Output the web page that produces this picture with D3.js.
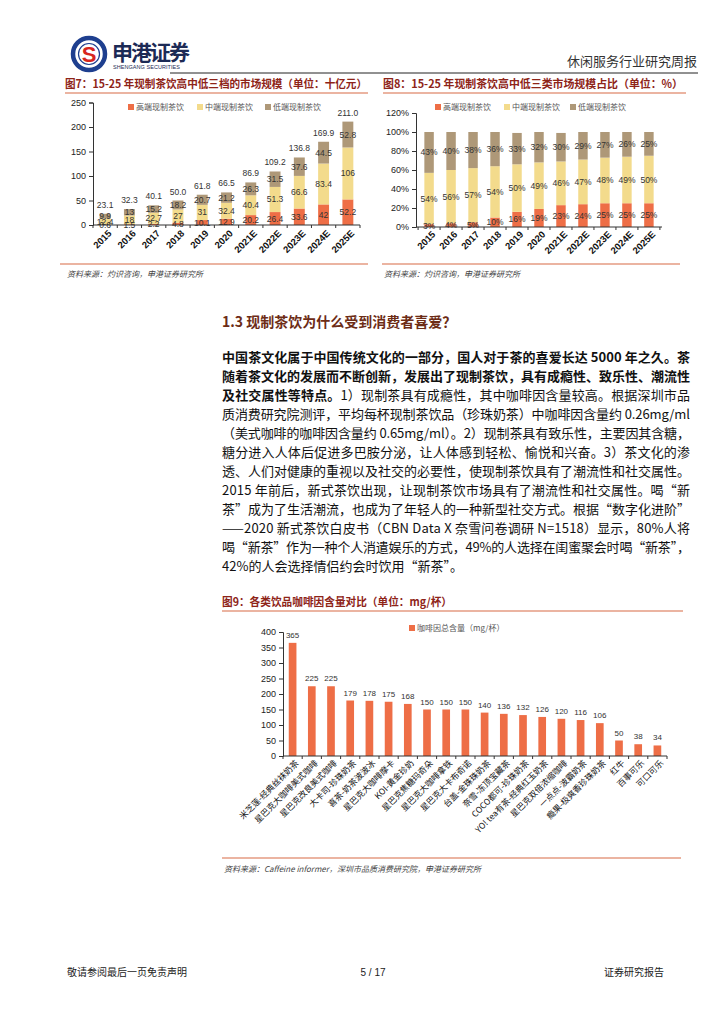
<!DOCTYPE html>
<html>
<head>
<meta charset="utf-8">
<script src="https://cdn.jsdelivr.net/npm/d3@7"></script>
<style>
body { margin: 0; background: #fff; }
text { font-family: "Noto Sans CJK SC", "Liberation Sans", sans-serif; }
.num { font-family: "Liberation Sans", Arial, sans-serif; }
</style>
</head>
<body>
<script>
// chart data
var years = ["2015", "2016", "2017", "2018", "2019", "2020", "2021E", "2022E", "2023E", "2024E", "2025E"];
var highVals = [0.6, 1.5, 2.2, 4.8, 10.1, 12.9, 20.2, 26.4, 33.6, 42, 52.2];
var midVals = [12.4, 18, 22.7, 27, 31, 32.4, 40.4, 51.3, 66.6, 83.4, 106];
var lowVals = [9.9, 13, 15.2, 18.2, 20.7, 21.2, 26.3, 31.5, 37.6, 44.5, 52.8];
var totalVals = [23.1, 32.3, 40.1, 50.0, 61.8, 66.5, 86.9, 109.2, 136.8, 169.9, 211.0];

var highPct = [3, 4, 5, 10, 16, 19, 23, 24, 25, 25, 25];
var midPct = [54, 56, 57, 54, 50, 49, 46, 47, 48, 49, 50];
var lowPct = [43, 40, 38, 36, 33, 32, 30, 29, 27, 26, 25];

var tierNames = ["高端现制茶饮", "中端现制茶饮", "低端现制茶饮"];

var drinkNames = ["米芝莲-经典丝袜奶茶", "星巴克大咖啡美式咖啡", "星巴克改良美式咖啡", "大卡司-珍珠奶茶",
  "喜茶-奶茶波波冰", "星巴克大咖啡摩卡", "KOI-黄金珍奶", "星巴克焦糖玛奇朵", "星巴克大咖啡拿铁",
  "星巴克大卡布奇诺", "台盖-金珠珠奶茶", "奈雪-冻顶宝藏茶", "COCO都可-珍珠奶茶", "YO! tea有茶-经典红玉奶茶",
  "星巴克双倍浓缩咖啡", "一点点-波霸奶茶", "瘾果-极爽香珍珠奶茶", "红牛", "百事可乐", "可口可乐"];
var caffeineVals = [365, 225, 225, 179, 178, 175, 168, 150, 150, 150, 140, 136, 132, 126, 120, 116, 106, 50, 38, 34];

var yTicks7 = [0, 50, 100, 150, 200, 250];
var yTicks8 = [0, 20, 40, 60, 80, 100, 120];
var yTicks9 = [0, 50, 100, 150, 200, 250, 300, 350, 400];

var paraLines = [
  [["b", "中国茶文化属于中国传统文化的一部分，国人对于茶的喜爱长达 5000 年之久。茶"]],
  [["b", "随着茶文化的发展而不断创新，发展出了现制茶饮，具有成瘾性、致乐性、潮流性"]],
  [["b", "及社交属性等特点。"], ["n", "1）现制茶具有成瘾性，其中咖啡因含量较高。根据深圳市品"]],
  [["n", "质消费研究院测评，平均每杯现制茶饮品（珍珠奶茶）中咖啡因含量约 0.26mg/ml"]],
  [["n", "（美式咖啡的咖啡因含量约 0.65mg/ml）。2）现制茶具有致乐性，主要因其含糖，"]],
  [["n", "糖分进入人体后促进多巴胺分泌，让人体感到轻松、愉悦和兴奋。3）茶文化的渗"]],
  [["n", "透、人们对健康的重视以及社交的必要性，使现制茶饮具有了潮流性和社交属性。"]],
  [["n", "2015 年前后，新式茶饮出现，让现制茶饮市场具有了潮流性和社交属性。喝“新"]],
  [["n", "茶”成为了生活潮流，也成为了年轻人的一种新型社交方式。根据“数字化进阶”"]],
  [["n", "——2020 新式茶饮白皮书（CBN Data X 奈雪问卷调研 N=1518）显示，80%人将"]],
  [["n", "喝“新茶”作为一种个人消遣娱乐的方式，49%的人选择在闺蜜聚会时喝“新茶”，"]],
  [["n", "42%的人会选择情侣约会时饮用“新茶”。"]]
];

var orange = "#EE6E46", yellow = "#F3DB8C", tan = "#AE9878";
var tierColor = {high: orange, mid: yellow, low: tan};
var titleRed = "#8E2418", ruleColor = "#D86A45";

var svg = d3.select("body").append("svg")
  .attr("width", 724)
  .attr("height", 1024);

// header
var logo = svg.append("g").attr("transform", "translate(89,54)");
logo.append("circle").attr("r", 16).attr("fill", "#fff").attr("stroke", "#1E3F8F").attr("stroke-width", 4.5);
logo.append("circle").attr("r", 10.5).attr("fill", "#fff").attr("stroke", "#1E3F8F").attr("stroke-width", 1.2);
logo.append("text").attr("y", 8).attr("text-anchor", "middle")
  .attr("font-size", 22).attr("font-weight", "bold").attr("fill", "#D7261E")
  .attr("class", "num").text("S");
svg.append("text").attr("x", 112).attr("y", 60).attr("font-size", 21).attr("font-weight", "bold")
  .attr("fill", "#1C2A55").attr("textLength", 78).text("申港证券");
svg.append("text").attr("x", 113).attr("y", 69).attr("font-size", 5.5).attr("class", "num")
  .attr("fill", "#1C2A55").attr("textLength", 67).text("SHENGANG SECURITIES");
svg.append("line").attr("x1", 170).attr("x2", 698).attr("y1", 73).attr("y2", 73)
  .attr("stroke", "#222").attr("stroke-width", 1);
svg.append("text").attr("x", 697).attr("y", 66).attr("text-anchor", "end")
  .attr("font-size", 13).attr("fill", "#333").text("休闲服务行业研究周报");

function figTitle(x, y, txt, w) {
  svg.append("text").attr("x", x).attr("y", y).attr("font-size", 11).attr("font-weight", "bold")
    .attr("fill", titleRed).attr("textLength", w).attr("lengthAdjust", "spacingAndGlyphs").text(txt);
}
function rule(x1, x2, y) {
  svg.append("line").attr("x1", x1).attr("x2", x2).attr("y1", y).attr("y2", y)
    .attr("stroke", ruleColor).attr("stroke-width", 1.2);
}
function source(x, y, txt) {
  svg.append("text").attr("x", x).attr("y", y).attr("font-size", 8).attr("font-style", "italic")
    .attr("fill", "#444").text(txt);
}
function styleAxis(g) {
  g.selectAll("text").attr("class", "num").attr("font-size", 9).attr("fill", "#222");
  g.selectAll("path,line").attr("stroke", "#333");
}
function legendItem(x, y, color, label) {
  svg.append("rect").attr("x", x).attr("y", y - 3).attr("width", 6).attr("height", 6).attr("fill", color);
  svg.append("text").attr("x", x + 8).attr("y", y + 3).attr("font-size", 8).attr("fill", "#555").text(label);
}
function bandAxis(x, y0) {
  var r = x.range();
  var g = svg.append("g");
  g.append("line").attr("x1", r[0]).attr("x2", r[1]).attr("y1", y0).attr("y2", y0).attr("stroke", "#333");
  var n = x.domain().length;
  var edge0 = r[0] + x.step() * x.paddingOuter() - x.step() * x.paddingInner() / 2;
  d3.range(n + 1).forEach(function (i) {
    var xx = Math.max(r[0], Math.min(r[1], edge0 + i * x.step()));
    g.append("line").attr("x1", xx).attr("x2", xx).attr("y1", y0).attr("y2", y0 + 3).attr("stroke", "#333");
  });
}
function rotLabels(x, y0, labels, size, weight, cls) {
  svg.append("g").selectAll("text").data(labels).enter().append("text")
    .attr("class", cls)
    .attr("transform", function (d) { return "translate(" + (x(d) + x.bandwidth() / 2 + 3) + "," + y0 + ") rotate(-45)"; })
    .attr("text-anchor", "end").attr("dy", "0.6em")
    .attr("font-size", size).attr("font-weight", weight).attr("fill", "#111")
    .text(function (d) { return d; });
}

// ---------- Figure 7 ----------
figTitle(65, 88, "图7：15-25 年现制茶饮高中低三档的市场规模（单位：十亿元）", 302);
rule(65, 368, 93);
var x7 = d3.scaleBand().domain(years).range([93, 360]).paddingInner(0.55).paddingOuter(0.275);
var y7 = d3.scaleLinear().domain([0, 250]).range([225, 102.5]);
var rows7 = years.map(function (y, i) { return {year: y, high: highVals[i], mid: midVals[i], low: lowVals[i]}; });
var series7 = d3.stack().keys(["high", "mid", "low"])(rows7);
var g7 = svg.append("g");
g7.selectAll("g").data(series7).enter().append("g")
  .attr("fill", function (s) { return tierColor[s.key]; })
  .selectAll("rect").data(function (s) { return s; }).enter().append("rect")
  .attr("x", function (d) { return x7(d.data.year); })
  .attr("y", function (d) { return y7(d[1]); })
  .attr("width", x7.bandwidth())
  .attr("height", function (d) { return y7(d[0]) - y7(d[1]); });
series7.forEach(function (s) {
  g7.append("g").selectAll("text").data(s).enter().append("text")
    .attr("class", "num").attr("font-size", 8.5).attr("fill", "#333").attr("text-anchor", "middle")
    .attr("x", function (d) { return x7(d.data.year) + x7.bandwidth() / 2; })
    .attr("y", function (d) { return y7((d[0] + d[1]) / 2) + 3; })
    .text(function (d) { return String(d.data[s.key]); });
});
g7.append("g").selectAll("text").data(series7[2]).enter().append("text")
  .attr("class", "num").attr("font-size", 8.5).attr("fill", "#333").attr("text-anchor", "middle")
  .attr("x", function (d) { return x7(d.data.year) + x7.bandwidth() / 2; })
  .attr("y", function (d) { return y7(d[1]) - 6; })
  .text(function (d, i) { return totalVals[i].toFixed(1); });
styleAxis(svg.append("g").attr("transform", "translate(93,0)")
  .call(d3.axisLeft(y7).tickValues(yTicks7).tickSize(4).tickPadding(3)));
bandAxis(x7, y7(0));
rotLabels(x7, 230, years, 9.5, "bold", "num");
legendItem(128, 107, orange, tierNames[0]);
legendItem(197, 107, yellow, tierNames[1]);
legendItem(265, 107, tan, tierNames[2]);
rule(60, 368, 264);
source(67, 277, "资料来源：灼识咨询，申港证券研究所");

// ---------- Figure 8 ----------
figTitle(383, 88, "图8：15-25 年现制茶饮高中低三类市场规模占比（单位：%）", 300);
rule(383, 686, 93);
var x8 = d3.scaleBand().domain(years).range([416, 662]).paddingInner(0.57).paddingOuter(0.38);
var y8 = d3.scaleLinear().domain([0, 120]).range([227, 113]);
var rows8 = years.map(function (y, i) { return {year: y, high: highPct[i], mid: midPct[i], low: lowPct[i]}; });
var series8 = d3.stack().keys(["high", "mid", "low"])(rows8);
var g8 = svg.append("g");
g8.selectAll("g").data(series8).enter().append("g")
  .attr("fill", function (s) { return tierColor[s.key]; })
  .selectAll("rect").data(function (s) { return s; }).enter().append("rect")
  .attr("x", function (d) { return x8(d.data.year); })
  .attr("y", function (d) { return y8(d[1]); })
  .attr("width", x8.bandwidth())
  .attr("height", function (d) { return y8(d[0]) - y8(d[1]); });
series8.forEach(function (s) {
  g8.append("g").selectAll("text").data(s).enter().append("text")
    .attr("class", "num").attr("font-size", 8.5).attr("fill", "#333").attr("text-anchor", "middle")
    .attr("x", function (d) { return x8(d.data.year) + x8.bandwidth() / 2; })
    .attr("y", function (d) { return y8((d[0] + d[1]) / 2) + 3; })
    .text(function (d) { return d.data[s.key] + "%"; });
});
styleAxis(svg.append("g").attr("transform", "translate(416,0)")
  .call(d3.axisLeft(y8).tickValues(yTicks8).tickSize(4).tickPadding(3)
    .tickFormat(function (d) { return d + "%"; })));
bandAxis(x8, y8(0));
rotLabels(x8, 231, years, 9.5, "bold", "num");
legendItem(435, 107, orange, tierNames[0]);
legendItem(504, 107, yellow, tierNames[1]);
legendItem(570, 107, tan, tierNames[2]);
rule(382, 680, 264);
source(384, 277, "资料来源：灼识咨询，申港证券研究所");

// ---------- Section text ----------
svg.append("text").attr("x", 222).attr("y", 327).attr("font-size", 14).attr("font-weight", "bold")
  .attr("fill", "#6D2C16").text("1.3 现制茶饮为什么受到消费者喜爱？");
paraLines.forEach(function (parts, i) {
  var t = svg.append("text").attr("x", 222).attr("y", 362 + i * 19)
    .attr("font-size", 13).attr("fill", "#111");
  if (i < paraLines.length - 1) t.attr("textLength", 468).attr("lengthAdjust", "spacing");
  parts.forEach(function (p) {
    t.append("tspan").attr("font-weight", p[0] === "b" ? "bold" : "normal").text(p[1]);
  });
});

// ---------- Figure 9 ----------
figTitle(222, 606, "图9：各类饮品咖啡因含量对比（单位：mg/杯）", 230);
rule(222, 683, 611);
var x9 = d3.scaleBand().domain(drinkNames).range([283, 667]).paddingInner(0.6).paddingOuter(0.3);
var y9 = d3.scaleLinear().domain([0, 400]).range([756, 632]);
var g9 = svg.append("g");
g9.selectAll("rect").data(caffeineVals).enter().append("rect")
  .attr("x", function (d, i) { return x9(drinkNames[i]); })
  .attr("y", function (d) { return y9(d); })
  .attr("width", x9.bandwidth())
  .attr("height", function (d) { return y9(0) - y9(d); })
  .attr("fill", orange);
g9.selectAll("text").data(caffeineVals).enter().append("text")
  .attr("class", "num").attr("font-size", 8).attr("fill", "#333").attr("text-anchor", "middle")
  .attr("x", function (d, i) { return x9(drinkNames[i]) + x9.bandwidth() / 2; })
  .attr("y", function (d) { return y9(d) - 5; })
  .text(function (d) { return d; });
styleAxis(svg.append("g").attr("transform", "translate(283,0)")
  .call(d3.axisLeft(y9).tickValues(yTicks9).tickSize(4).tickPadding(3)));
bandAxis(x9, y9(0));
rotLabels(x9, 760, drinkNames, 8.5, "normal", "");
legendItem(409, 628, orange, "咖啡因总含量（mg/杯）");
rule(222, 681, 858);
source(224, 872, "资料来源：Caffeine informer，深圳市品质消费研究院，申港证券研究所");

// footer
svg.append("text").attr("x", 67).attr("y", 976).attr("font-size", 10).attr("fill", "#222").text("敬请参阅最后一页免责声明");
svg.append("text").attr("x", 373).attr("y", 976).attr("text-anchor", "middle").attr("class", "num")
  .attr("font-size", 10).attr("fill", "#222").text("5 / 17");
svg.append("text").attr("x", 664).attr("y", 976).attr("text-anchor", "end").attr("font-size", 10)
  .attr("fill", "#222").text("证券研究报告");
</script>
</body>
</html>
